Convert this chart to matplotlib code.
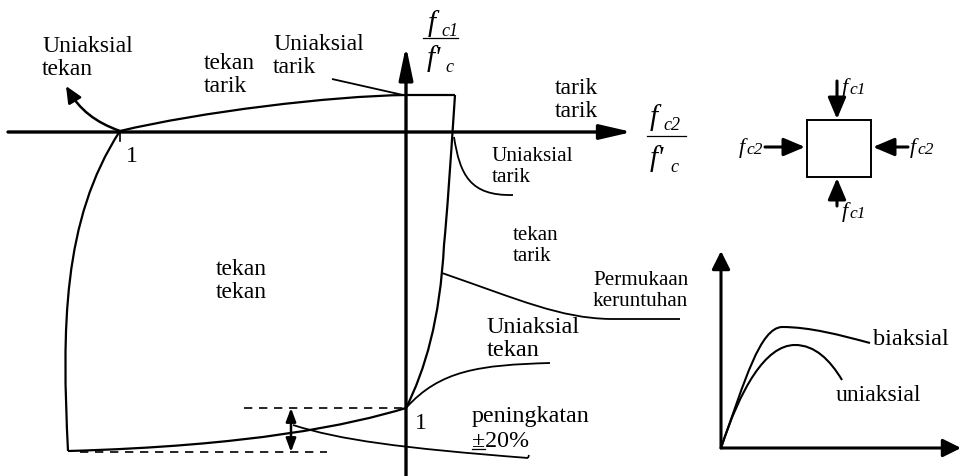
import matplotlib
matplotlib.use("Agg")
import matplotlib.pyplot as plt
from matplotlib.path import Path
from matplotlib.patches import PathPatch, Rectangle

plt.rcParams["font.family"] = ["Liberation Serif", "DejaVu Serif"]

# ---------------------------------------------------------
# Geometry of the biaxial failure envelope (canvas units, y down)
# ---------------------------------------------------------
x_axis = [(8, 132), (632, 132)]
y_axis = [(406, 476), (406, 46)]

# each curve: start point followed by cubic segments (c1, c2, end)
env_top = [(120, 131), (200, 112), (330, 96), (406, 95)]
env_top_flat = [(406, 95), (455, 95)]
env_right = [(455, 95), (450, 170), (447, 215), (444, 245),
             (440, 320), (425, 370), (406, 408)]
env_bottom = [(406, 408), (350, 425), (250, 446), (68, 451)]
env_left = [(68, 451), (62, 330), (62, 220), (120, 131)]

lead_uni_tekan = [(120, 131), (95, 122), (80, 110), (68, 90)]
lead_uni_tarik_top = [(332, 79), (403, 95)]
lead_uni_tarik_right = [(454, 137), (460, 175), (470, 196), (513, 195)]
lead_permukaan = [(442, 273), (520, 300), (560, 318), (610, 319), (680, 319)]
lead_uni_tekan_low = [(406, 408), (440, 370), (480, 365), (550, 363)]
lead_peningkatan = [(293, 425), (340, 440), (400, 448), (528, 458)]
lead_hook = [(528, 458), (529, 455)]

dash_upper = [(244, 408), (406, 408)]
dash_lower = [(80, 452), (327, 452)]
increase_x = 291

# text labels: (x, y, text, size)
labels = [
    (42, 58, "Uniaksial\ntekan", 17),
    (204, 75, "tekan\ntarik", 17),
    (273, 56, "Uniaksial\ntarik", 17),
    (555, 100, "tarik\ntarik", 17),
    (492, 167, "Uniaksial\ntarik", 15.3),
    (513, 246, "tekan\ntarik", 15),
    (216, 281, "tekan\ntekan", 17),
    (593, 291, "Permukaan\nkeruntuhan", 15.2),
    (487, 339, "Uniaksial\ntekan", 17.5),
]

# small element with applied stresses
box = (807, 120, 64, 57)

# stress-strain sketch
ss_origin = (721, 448)
ss_biaksial = [(721, 448), (745, 380), (760, 328), (782, 327),
               (810, 327), (840, 335), (870, 343)]
ss_uniaksial = [(721, 448), (740, 390), (765, 345), (795, 345),
                (815, 345), (830, 360), (842, 380)]


def cubic_path(pts):
    codes = [Path.MOVETO] + [Path.CURVE4] * (len(pts) - 1)
    return Path(pts, codes)


def poly_path(pts):
    codes = [Path.MOVETO] + [Path.LINETO] * (len(pts) - 1)
    return Path(pts, codes)


def arrow(ax, start, end, lw=2.2, hl=1.4, hw=0.6, style="-|>"):
    ax.annotate("", xy=end, xytext=start,
                arrowprops=dict(arrowstyle=f"{style},head_length={hl},head_width={hw}",
                                color="black", lw=lw, shrinkA=0, shrinkB=0))


def italic(ax, x, y, s, size):
    ax.text(x, y, s, fontsize=size, fontstyle="italic", ha="left", va="baseline")


fig = plt.figure(figsize=(9.62, 4.76), dpi=100)
ax = fig.add_axes([0, 0, 1, 1])
ax.set_xlim(0, 962)
ax.set_ylim(476, 0)
ax.axis("off")

# main axes
arrow(ax, x_axis[0], x_axis[1], lw=2.4, hl=1.95, hw=0.45)
arrow(ax, y_axis[0], y_axis[1], lw=2.4, hl=2.0, hw=0.42)

# envelope
for seg in (env_top, env_right, env_bottom, env_left):
    ax.add_patch(PathPatch(cubic_path(seg), fill=False, lw=1.6, color="black"))
ax.add_patch(PathPatch(poly_path(env_top_flat), fill=False, lw=1.6, color="black"))

# leaders
ax.add_patch(PathPatch(cubic_path(lead_uni_tekan), fill=False, lw=1.8, color="black"))
arrow(ax, (72, 96), (66, 86), lw=1.8, hl=1.0, hw=0.45)
ax.add_patch(PathPatch(poly_path(lead_uni_tarik_top), fill=False, lw=1.3, color="black"))
ax.add_patch(PathPatch(cubic_path(lead_uni_tarik_right), fill=False, lw=1.3, color="black"))
ax.add_patch(PathPatch(cubic_path(lead_permukaan[:4]), fill=False, lw=1.3, color="black"))
ax.add_patch(PathPatch(poly_path(lead_permukaan[3:]), fill=False, lw=1.3, color="black"))
ax.add_patch(PathPatch(cubic_path(lead_uni_tekan_low), fill=False, lw=1.3, color="black"))
ax.add_patch(PathPatch(cubic_path(lead_peningkatan), fill=False, lw=1.3, color="black"))
ax.add_patch(PathPatch(poly_path(lead_hook), fill=False, lw=1.3, color="black"))

# ticks at "1"
ax.plot([120, 120], [131, 141], color="black", lw=1.2)
ax.text(126, 162, "1", fontsize=17, ha="left", va="baseline")
ax.text(415, 429, "1", fontsize=17, ha="left", va="baseline")

# dashed guides and the +/-20% range arrow
ax.plot(*zip(*dash_upper), color="black", lw=1.2, ls=(0, (5, 4)))
ax.plot(*zip(*dash_lower), color="black", lw=1.2, ls=(0, (5, 4)))
arrow(ax, (increase_x, 408), (increase_x, 452), lw=1.8, hl=0.8, hw=0.3,
      style="<|-|>")

for x, y, t, s in labels:
    ax.text(x, y, t, fontsize=s, ha="left", va="center", linespacing=1.15)

ax.text(472, 422, "peningkatan", fontsize=17.3, ha="left", va="baseline")
ax.text(472, 447, "\u00b120%", fontsize=17.3, ha="left", va="baseline")
ax.plot([472, 485], [449, 449], color="black", lw=0.9)

# axis quotient labels
italic(ax, 428, 31, "f", 21)
italic(ax, 441, 36, "c1", 13)
ax.plot([423, 458], [38, 38], color="black", lw=0.9)
italic(ax, 427, 66, "f'", 21)
italic(ax, 445, 72, "c", 13)

italic(ax, 650, 125, "f", 21)
italic(ax, 663, 130, "c2", 13)
ax.plot([647, 686], [136, 136], color="black", lw=0.9)
italic(ax, 650, 166, "f'", 21)
italic(ax, 670, 172, "c", 13)

# loaded element
bx, by, bw, bh = box
ax.add_patch(Rectangle((bx, by), bw, bh, fill=False, lw=1.4, color="black"))
arrow(ax, (837, 81), (837, 119), lw=2.2, hl=1.3, hw=0.55)
arrow(ax, (837, 206), (837, 178), lw=2.2, hl=1.3, hw=0.55)
arrow(ax, (765, 147), (805, 147), lw=2.2, hl=1.3, hw=0.55)
arrow(ax, (908, 147), (873, 147), lw=2.2, hl=1.3, hw=0.55)
italic(ax, 842, 93, "f", 16)
italic(ax, 849, 94, "c1", 12.5)
italic(ax, 842, 217, "f", 16)
italic(ax, 849, 218, "c1", 12.5)
italic(ax, 739, 153, "f", 16)
italic(ax, 746, 154, "c2", 12.5)
italic(ax, 910, 153, "f", 16)
italic(ax, 917, 154, "c2", 12.5)

# stress-strain sketch
arrow(ax, ss_origin, (721, 251), lw=2.2, hl=1.1, hw=0.55)
arrow(ax, ss_origin, (961, 448), lw=2.2, hl=1.1, hw=0.55)
ax.add_patch(PathPatch(cubic_path(ss_biaksial), fill=False, lw=1.5, color="black"))
ax.add_patch(PathPatch(cubic_path(ss_uniaksial), fill=False, lw=1.5, color="black"))
ax.text(873, 345, "biaksial", fontsize=17.5, ha="left", va="baseline")
ax.text(836, 401, "uniaksial", fontsize=17, ha="left", va="baseline")

plt.savefig("out.png", dpi=100)
plt.close()
